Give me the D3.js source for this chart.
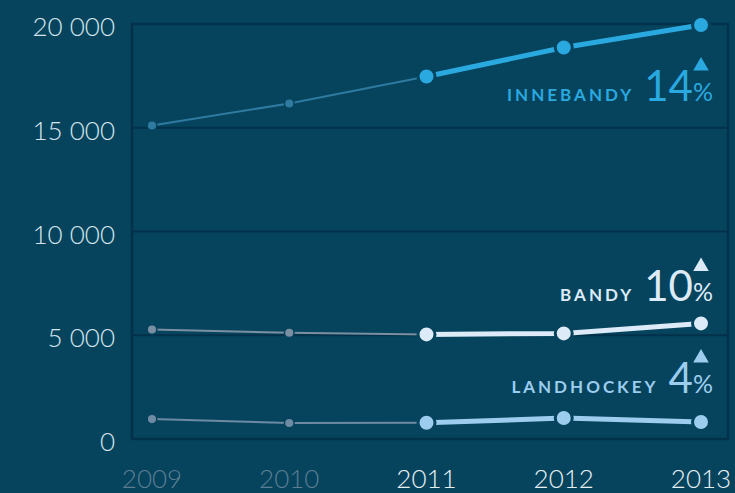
<!DOCTYPE html>
<html>
<meta charset="utf-8">
<script src="https://d3js.org/d3.v7.min.js"></script>
<style>
    html, body { margin: 0; padding: 0; background: #06445e; }
    svg { display: block; }
    text { font-family: Lato, "Open Sans", sans-serif; }
</style>
<body>
    <svg width="735" height="493"></svg>
    <script>
        // data
        const years = [2009, 2010, 2011, 2012, 2013];
        const innebandy = [15110, 16170, 17470, 18870, 19950];
        const bandy = [5280, 5120, 5040, 5090, 5570];
        const landhockey = [960, 770, 780, 1010, 820];
        const seriesNames = ["INNEBANDY", "BANDY", "LANDHOCKEY"];
        const growth = [14, 10, 4];
        const yTicks = [0, 5000, 10000, 15000, 20000];

        const bg = "#06445e";
        const colors = [
            { bright: "#2aa9e0", dim: "#2e7aa1" },
            { bright: "#dcebf7", dim: "#7b8fa3" },
            { bright: "#9ccdee", dim: "#6f8aa3" }
        ];
        // label baseline offset from the last point
        const labelOffsets = [76, -22, -29];

        let svg = d3.select("svg"),
            margin = { top: 24, right: 7, bottom: 54, left: 132 },
            width = +svg.attr("width") - margin.left - margin.right,
            height = +svg.attr("height") - margin.top - margin.bottom;

        let x = d3.scalePoint().domain(years).range([20, 569]),
            y = d3.scaleLinear().domain([0, 20000]).range([height, 0]);

        let g = svg.append("g").attr("transform", `translate(${margin.left},${margin.top})`);

        // grid + frame
        g.selectAll("line.grid")
            .data(yTicks.filter(d => d > 0 && d < 20000))
            .enter().append("line")
            .attr("class", "grid")
            .attr("x1", 0).attr("x2", width)
            .attr("y1", d => y(d)).attr("y2", d => y(d))
            .style("stroke", "#03304a").style("stroke-width", 2);
        g.append("rect")
            .attr("x", 0).attr("y", 0)
            .attr("width", width).attr("height", height)
            .style("fill", "none").style("stroke", "#03304a").style("stroke-width", 2.5);

        // y axis labels
        const fmt = d => d === 0 ? "0" : d3.format(",")(d).replace(",", " ");
        svg.selectAll("text.ytick")
            .data(yTicks)
            .enter().append("text")
            .attr("class", "ytick")
            .attr("x", 115)
            .attr("y", d => margin.top + y(d) + 3)
            .attr("dy", "0.35em")
            .attr("text-anchor", "end")
            .style("font-size", "26px").style("font-weight", 300)
            .style("fill", "#d6e4ec")
            .text(fmt);

        // x axis labels
        svg.selectAll("text.xtick")
            .data(years)
            .enter().append("text")
            .attr("class", "xtick")
            .attr("x", d => margin.left + x(d))
            .attr("y", 488)
            .attr("text-anchor", "middle")
            .style("font-size", "26px").style("font-weight", 300)
            .style("fill", d => d < 2011 ? "#5b7d92" : "#e8f0f5")
            .text(d => d);

        const allSeries = [innebandy, bandy, landhockey].map((vals, i) => ({
            name: seriesNames[i],
            growth: growth[i],
            color: colors[i],
            offset: labelOffsets[i],
            values: years.map((yr, j) => ({ year: yr, value: vals[j] }))
        }));

        const line = d3.line().x(d => x(d.year)).y(d => y(d.value));

        allSeries.forEach(s => {
            const old = s.values.filter(d => d.year <= 2011);
            const recent = s.values.filter(d => d.year >= 2011);

            g.append("path").datum(old).attr("d", line)
                .style("fill", "none").style("stroke", s.color.dim).style("stroke-width", 2);
            g.append("path").datum(recent).attr("d", line)
                .style("fill", "none").style("stroke", s.color.bright).style("stroke-width", 5);

            g.selectAll(null)
                .data(s.values)
                .enter().append("circle")
                .attr("cx", d => x(d.year))
                .attr("cy", d => y(d.value))
                .attr("r", d => d.year < 2011 ? 4.8 : 8.5)
                .style("fill", d => d.year < 2011 ? s.color.dim : s.color.bright)
                .style("stroke", bg)
                .style("stroke-width", d => d.year < 2011 ? 1.5 : 3);

            // label
            const last = s.values[s.values.length - 1];
            const baseY = y(last.value) + s.offset;
            const t = g.append("text")
                .attr("x", 581)
                .attr("y", baseY)
                .attr("text-anchor", "end")
                .style("fill", s.color.bright);
            t.append("tspan")
                .style("font-size", "17px").style("font-weight", 700)
                .style("letter-spacing", "3px")
                .text(s.name);
            t.append("tspan")
                .attr("dx", 10)
                .style("font-size", "42px").style("font-weight", 400)
                .text(s.growth);
            t.append("tspan")
                .style("font-size", "25px").style("font-weight", 400)
                .text("%");

            // triangle
            g.append("path")
                .attr("d", d3.symbol().type(d3.symbolTriangle).size(105))
                .attr("transform", `translate(${x(2013)},${baseY - 35})`)
                .style("fill", s.color.bright);
        });
    </script>
</body>
</html>
